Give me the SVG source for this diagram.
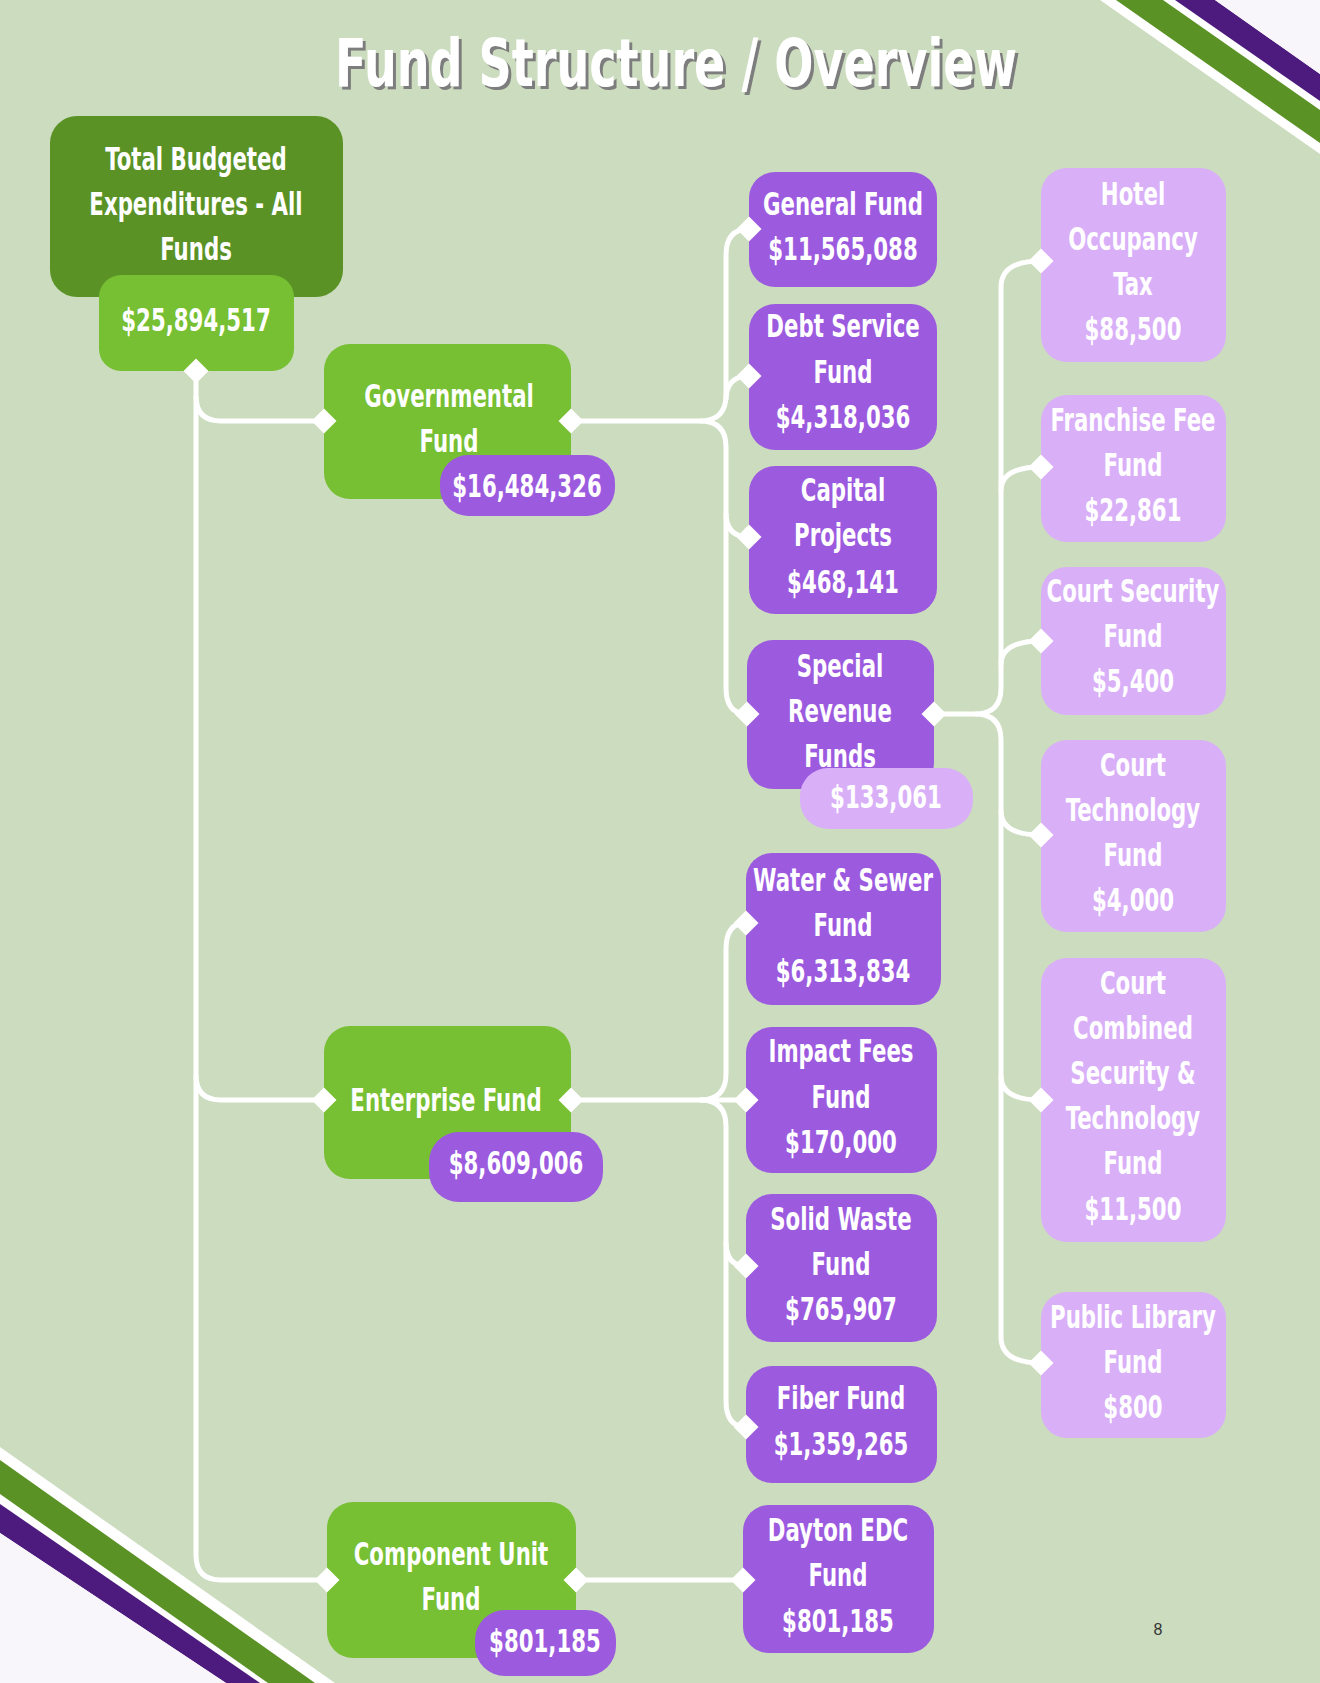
<svg xmlns="http://www.w3.org/2000/svg" xmlns:xlink="http://www.w3.org/1999/xlink" width="1320" height="1683" viewBox="0 0 1320 1683">
<style>
.dg{fill:#5a9225}
.lg{fill:#77bf33}
.pu{fill:#9c5adf}
.lv{fill:#d9b0f8}
.t{fill:#ffffff;font-family:"Liberation Sans Narrow","DejaVu Sans Condensed","Liberation Sans",sans-serif;font-weight:bold;font-size:32px;text-anchor:middle}
.ln{fill:none;stroke:#ffffff;stroke-width:5}
</style>
<defs>
<path id="dia" d="M0,-12.5 L12.5,0 L0,12.5 L-12.5,0Z" fill="#ffffff"/>
<filter id="sh" x="-5%" y="-20%" width="110%" height="150%">
<feDropShadow dx="3" dy="3" stdDeviation="0.5" flood-color="#7d7d7d" flood-opacity="1"/>
</filter>
</defs>
<rect x="0" y="0" width="1320" height="1683" fill="#ccdcbf"/>
<g id="decor">
<polygon points="1100,0 1320,0 1320,154" fill="#ffffff"/>
<polygon points="1116,0 1163,0 1320,110 1320,143" fill="#5a9225"/>
<polygon points="1175,0 1215,0 1320,74 1320,101" fill="#4d1a7d"/>
<polygon points="1215,0 1320,0 1320,74" fill="#f8f6fb"/>
<polygon points="0,1447 0,1683 335,1683" fill="#ffffff"/>
<polygon points="0,1460 315,1683 268,1683 0,1494" fill="#5a9225"/>
<polygon points="0,1504 260,1683 226,1683 0,1533" fill="#4d1a7d"/>
<polygon points="0,1533 226,1683 0,1683" fill="#f8f6fb"/>
</g>
<text x="676" y="86" textLength="682" lengthAdjust="spacingAndGlyphs" filter="url(#sh)" style="fill:#ffffff;font-family:'Liberation Sans Narrow','DejaVu Sans Condensed','Liberation Sans',sans-serif;font-weight:bold;font-size:66px;text-anchor:middle">Fund Structure / Overview</text>

<g id="n-total">
<rect class="dg" x="50" y="116" width="293" height="181" rx="27"/>
<g transform="translate(196 0) scale(0.74 1)">
<text class="t" x="0" y="170">Total Budgeted</text>
<text class="t" x="0" y="215">Expenditures - All</text>
<text class="t" x="0" y="260">Funds</text>
</g>
<rect class="lg" x="99" y="275" width="195" height="96" rx="22"/>
<g transform="translate(196 0) scale(0.74 1)">
<text class="t" x="0" y="331">$25,894,517</text>
</g>
</g>

<g id="n-governmental">
<rect class="lg" x="324" y="344" width="247" height="155" rx="26"/>
<g transform="translate(449 0) scale(0.74 1)">
<text class="t" x="0" y="407">Governmental</text>
<text class="t" x="0" y="452">Fund</text>
</g>
<rect class="pu" x="440" y="455" width="175" height="61" rx="28"/>
<g transform="translate(527 0) scale(0.74 1)">
<text class="t" x="0" y="497">$16,484,326</text>
</g>
</g>

<g id="n-general">
<rect class="pu" x="749" y="172" width="188" height="115" rx="26"/>
<g transform="translate(843 0) scale(0.74 1)">
<text class="t" x="0" y="215">General Fund</text>
<text class="t" x="0" y="260">$11,565,088</text>
</g>
</g>

<g id="n-debt">
<rect class="pu" x="749" y="304" width="188" height="146" rx="26"/>
<g transform="translate(843 0) scale(0.74 1)">
<text class="t" x="0" y="337">Debt Service</text>
<text class="t" x="0" y="383">Fund</text>
<text class="t" x="0" y="428">$4,318,036</text>
</g>
</g>

<g id="n-capital">
<rect class="pu" x="749" y="466" width="188" height="148" rx="26"/>
<g transform="translate(843 0) scale(0.74 1)">
<text class="t" x="0" y="501">Capital</text>
<text class="t" x="0" y="546">Projects</text>
<text class="t" x="0" y="593">$468,141</text>
</g>
</g>

<g id="n-special">
<rect class="pu" x="747" y="640" width="187" height="149" rx="26"/>
<g transform="translate(840 0) scale(0.74 1)">
<text class="t" x="0" y="677">Special</text>
<text class="t" x="0" y="722">Revenue</text>
<text class="t" x="0" y="767">Funds</text>
</g>
<rect class="lv" x="800" y="768" width="173" height="61" rx="28"/>
<g transform="translate(886 0) scale(0.74 1)">
<text class="t" x="0" y="808">$133,061</text>
</g>
</g>

<g id="n-enterprise">
<rect class="lg" x="324" y="1026" width="247" height="153" rx="26"/>
<g transform="translate(446 0) scale(0.74 1)">
<text class="t" x="0" y="1111">Enterprise Fund</text>
</g>
<rect class="pu" x="429" y="1132" width="174" height="70" rx="30"/>
<g transform="translate(516 0) scale(0.74 1)">
<text class="t" x="0" y="1174">$8,609,006</text>
</g>
</g>

<g id="n-water">
<rect class="pu" x="746" y="853" width="195" height="152" rx="26"/>
<g transform="translate(843 0) scale(0.74 1)">
<text class="t" x="0" y="891">Water &amp; Sewer</text>
<text class="t" x="0" y="936">Fund</text>
<text class="t" x="0" y="982">$6,313,834</text>
</g>
</g>

<g id="n-impact">
<rect class="pu" x="746" y="1027" width="191" height="146" rx="26"/>
<g transform="translate(841 0) scale(0.74 1)">
<text class="t" x="0" y="1062">Impact Fees</text>
<text class="t" x="0" y="1108">Fund</text>
<text class="t" x="0" y="1153">$170,000</text>
</g>
</g>

<g id="n-solid">
<rect class="pu" x="746" y="1194" width="191" height="148" rx="26"/>
<g transform="translate(841 0) scale(0.74 1)">
<text class="t" x="0" y="1230">Solid Waste</text>
<text class="t" x="0" y="1275">Fund</text>
<text class="t" x="0" y="1320">$765,907</text>
</g>
</g>

<g id="n-fiber">
<rect class="pu" x="746" y="1366" width="191" height="117" rx="26"/>
<g transform="translate(841 0) scale(0.74 1)">
<text class="t" x="0" y="1409">Fiber Fund</text>
<text class="t" x="0" y="1455">$1,359,265</text>
</g>
</g>

<g id="n-component">
<rect class="lg" x="327" y="1502" width="249" height="156" rx="26"/>
<g transform="translate(451 0) scale(0.74 1)">
<text class="t" x="0" y="1565">Component Unit</text>
<text class="t" x="0" y="1610">Fund</text>
</g>
<rect class="pu" x="475" y="1610" width="141" height="66" rx="30"/>
<g transform="translate(545 0) scale(0.74 1)">
<text class="t" x="0" y="1652">$801,185</text>
</g>
</g>

<g id="n-dayton">
<rect class="pu" x="743" y="1505" width="191" height="148" rx="26"/>
<g transform="translate(838 0) scale(0.74 1)">
<text class="t" x="0" y="1541">Dayton EDC</text>
<text class="t" x="0" y="1586">Fund</text>
<text class="t" x="0" y="1632">$801,185</text>
</g>
</g>

<g id="n-hotel">
<rect class="lv" x="1041" y="168" width="185" height="194" rx="26"/>
<g transform="translate(1133 0) scale(0.74 1)">
<text class="t" x="0" y="205">Hotel</text>
<text class="t" x="0" y="250">Occupancy</text>
<text class="t" x="0" y="295">Tax</text>
<text class="t" x="0" y="340">$88,500</text>
</g>
</g>

<g id="n-franchise">
<rect class="lv" x="1041" y="395" width="185" height="147" rx="26"/>
<g transform="translate(1133 0) scale(0.74 1)">
<text class="t" x="0" y="431">Franchise Fee</text>
<text class="t" x="0" y="476">Fund</text>
<text class="t" x="0" y="521">$22,861</text>
</g>
</g>

<g id="n-courtsecurity">
<rect class="lv" x="1041" y="567" width="185" height="148" rx="26"/>
<g transform="translate(1133 0) scale(0.74 1)">
<text class="t" x="0" y="602">Court Security</text>
<text class="t" x="0" y="647">Fund</text>
<text class="t" x="0" y="692">$5,400</text>
</g>
</g>

<g id="n-courttech">
<rect class="lv" x="1041" y="740" width="185" height="192" rx="26"/>
<g transform="translate(1133 0) scale(0.74 1)">
<text class="t" x="0" y="776">Court</text>
<text class="t" x="0" y="821">Technology</text>
<text class="t" x="0" y="866">Fund</text>
<text class="t" x="0" y="911">$4,000</text>
</g>
</g>

<g id="n-courtcombined">
<rect class="lv" x="1041" y="958" width="185" height="284" rx="26"/>
<g transform="translate(1133 0) scale(0.74 1)">
<text class="t" x="0" y="994">Court</text>
<text class="t" x="0" y="1039">Combined</text>
<text class="t" x="0" y="1084">Security &amp;</text>
<text class="t" x="0" y="1129">Technology</text>
<text class="t" x="0" y="1174">Fund</text>
<text class="t" x="0" y="1220">$11,500</text>
</g>
</g>

<g id="n-library">
<rect class="lv" x="1041" y="1292" width="185" height="146" rx="26"/>
<g transform="translate(1133 0) scale(0.74 1)">
<text class="t" x="0" y="1328">Public Library</text>
<text class="t" x="0" y="1373">Fund</text>
<text class="t" x="0" y="1418">$800</text>
</g>
</g>

<g id="connectors">
<path class="ln" d="M196,371 V1555 Q196,1580 221,1580 H327"/>
<path class="ln" d="M196,396 Q196,421 221,421 H324"/>
<path class="ln" d="M196,1075 Q196,1100 221,1100 H324"/>
<path class="ln" d="M571,421 H700 Q726,421 726,395 V255 Q726,229 749,229"/>
<path class="ln" d="M700,421 Q726,421 726,447 V688 Q726,714 747,714"/>
<path class="ln" d="M726,400 Q726,376 749,376"/>
<path class="ln" d="M726,513 Q726,537 749,537"/>
<path class="ln" d="M571,1100 H746"/>
<path class="ln" d="M700,1100 Q726,1100 726,1074 V949 Q726,923 746,923"/>
<path class="ln" d="M700,1100 Q726,1100 726,1126 V1401 Q726,1427 746,1427"/>
<path class="ln" d="M726,1242 Q726,1266 746,1266"/>
<path class="ln" d="M934,714 H975 Q1001,714 1001,688 V287 Q1001,261 1041,261"/>
<path class="ln" d="M975,714 Q1001,714 1001,740 V1337 Q1001,1363 1041,1363"/>
<path class="ln" d="M1001,491 Q1001,467 1041,467"/>
<path class="ln" d="M1001,665 Q1001,641 1041,641"/>
<path class="ln" d="M1001,811 Q1001,835 1041,835"/>
<path class="ln" d="M1001,1076 Q1001,1100 1041,1100"/>
<path class="ln" d="M576,1580 H743"/>
<use xlink:href="#dia" x="196" y="371"/>
<use xlink:href="#dia" x="324" y="421"/>
<use xlink:href="#dia" x="571" y="421"/>
<use xlink:href="#dia" x="324" y="1100"/>
<use xlink:href="#dia" x="571" y="1100"/>
<use xlink:href="#dia" x="327" y="1580"/>
<use xlink:href="#dia" x="576" y="1580"/>
<use xlink:href="#dia" x="749" y="229"/>
<use xlink:href="#dia" x="749" y="376"/>
<use xlink:href="#dia" x="749" y="537"/>
<use xlink:href="#dia" x="747" y="714"/>
<use xlink:href="#dia" x="934" y="714"/>
<use xlink:href="#dia" x="746" y="923"/>
<use xlink:href="#dia" x="746" y="1100"/>
<use xlink:href="#dia" x="746" y="1266"/>
<use xlink:href="#dia" x="746" y="1427"/>
<use xlink:href="#dia" x="743" y="1580"/>
<use xlink:href="#dia" x="1041" y="261"/>
<use xlink:href="#dia" x="1041" y="467"/>
<use xlink:href="#dia" x="1041" y="641"/>
<use xlink:href="#dia" x="1041" y="835"/>
<use xlink:href="#dia" x="1041" y="1100"/>
<use xlink:href="#dia" x="1041" y="1363"/>
</g>

<text x="1158" y="1635" style="fill:#333333;font-family:'Liberation Sans','DejaVu Sans',sans-serif;font-size:16px;text-anchor:middle">8</text>
</svg>
